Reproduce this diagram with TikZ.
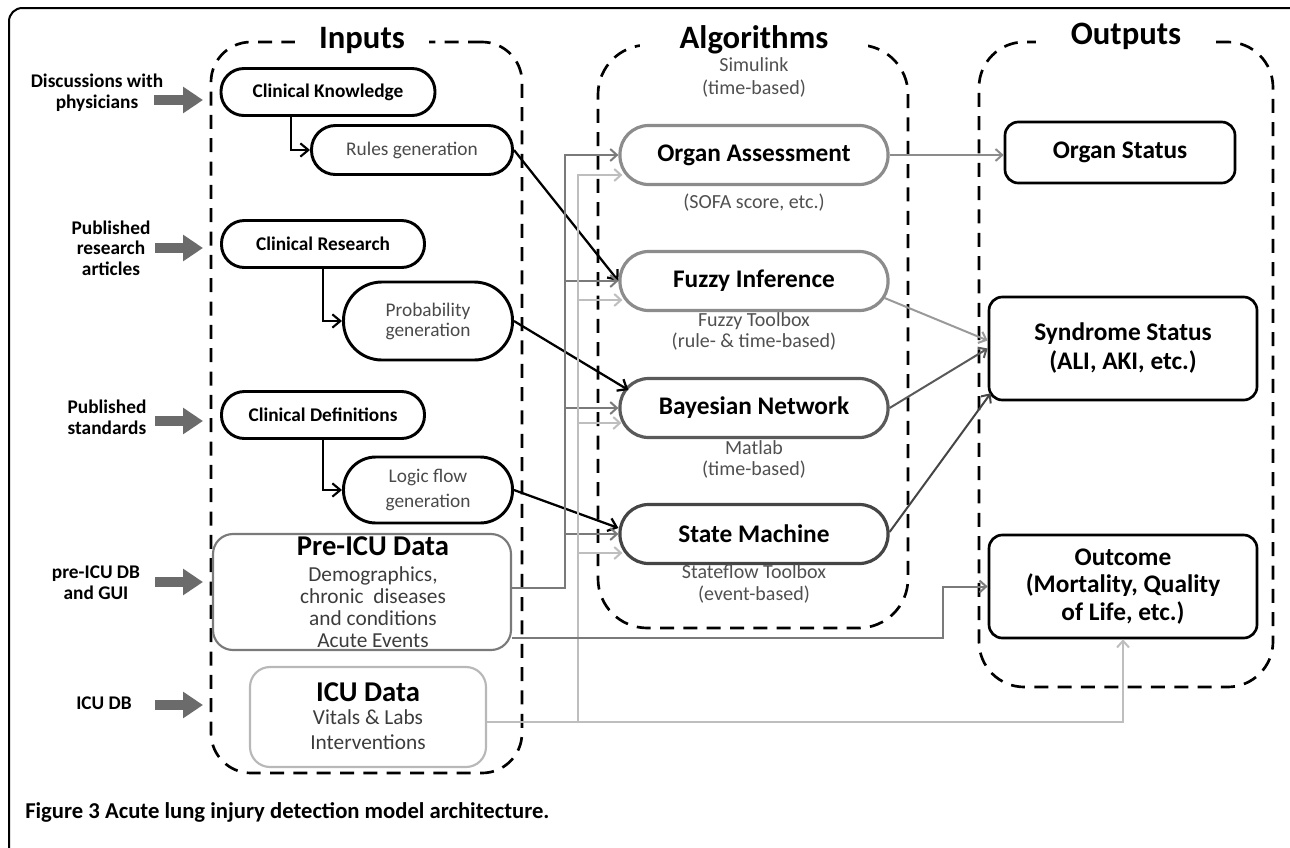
\documentclass[tikz,border=0pt]{standalone}
\usepackage{fontspec}
\setmainfont{Carlito}
\usetikzlibrary{arrows.meta,calc}
\definecolor{txtgray}{HTML}{4A4A4A}
\definecolor{subgray}{HTML}{505050}
\definecolor{oagray}{HTML}{8C8C8C}
\definecolor{figray}{HTML}{9A9A9A}
\definecolor{bngray}{HTML}{5A5A5A}
\definecolor{smgray}{HTML}{454545}
\definecolor{midg}{HTML}{7A7A7A}
\definecolor{lightg}{HTML}{BEBEBE}
\definecolor{icugray}{HTML}{B8B8B8}
\definecolor{arrgray}{HTML}{6B6B6B}
\definecolor{bodygray}{HTML}{3C3C3C}
\begin{document}
\begin{tikzpicture}[x=0.75pt,y=-0.75pt,
 lab/.style={font=\fontsize{14.5}{15.5}\selectfont\bfseries, align=center, inner sep=0pt},
 inpill/.style={draw=black, line width=2.2pt, fill=white, inner sep=0pt, align=center},
 inbold/.style={font=\fontsize{14.5}{16}\selectfont\bfseries},
 ingray/.style={font=\fontsize{14.5}{15}\selectfont, text=txtgray},
 algpill/.style={line width=2.4pt, fill=white, inner sep=0pt, minimum width=201pt, minimum height=44.25pt, rounded corners=21.5pt, font=\fontsize{19}{20}\selectfont\bfseries},
 sub/.style={font=\fontsize{15}{15.75}\selectfont, text=subgray, align=center, inner sep=0pt},
 outnode/.style={draw=black, line width=2pt, fill=white, inner sep=0pt, align=center, rounded corners=10pt},
 dbox/.style={draw=black, line width=2pt, dash pattern=on 10.5pt off 7pt, rounded corners=30pt, inner sep=0pt},
 boxtitle/.style={fill=white, inner ysep=0pt, font=\fontsize{24.5}{26}\selectfont\bfseries},
 blockarr/.style={draw=arrgray, line width=8pt, -{Triangle[length=15pt,width=19pt]}},
 con/.style={line width=1.5pt, -{Straight Barb[length=5pt,width=9pt]}},
 blk/.style={line width=1.7pt, draw=black, -{Straight Barb[length=6pt,width=10pt]}},
 datatitle/.style={font=\fontsize{21.5}{24}\selectfont\bfseries, inner sep=0pt},
]
\useasboundingbox (0,0) rectangle (1290,847);
\clip (0,0) rectangle (1290,847);
\fill[white] (0,0) rectangle (1290,847);

% outer frame
\draw[line width=1.5pt, rounded corners=10pt] (9,870) -- (9,8) -- (1301,8) -- (1301,870);

% dashed group boxes
\node[dbox, minimum width=233.25pt, minimum height=548.25pt] (inbox) at (366.5,407.5) {};
\node[dbox, minimum width=232.5pt, minimum height=437.25pt, rounded corners=37pt] (algbox) at (753,336.5) {};
\node[dbox, minimum width=220.5pt, minimum height=483.75pt, rounded corners=34pt] (obox) at (1126,364.5) {};
\node[boxtitle, inner xsep=18pt] (tin) at (362,40) {Inputs};
\node[boxtitle, inner xsep=30pt] (talg) at (754,40) {Algorithms};
\node[boxtitle, inner xsep=26pt] (tout) at (1126,36) {Outputs};
\node[sub, font=\fontsize{15}{17.25}\selectfont] (simu) at (754,77) {Simulink\\(time-based)};

% left labels and block arrows
\node[lab] (l1) at (97,93) {Discussions with\\physicians};
\node[lab] (l2) at (111,248) {Published\\research\\articles};
\node[lab] (l3) at (107,417) {Published\\standards};
\node[lab] (l4) at (96,583) {pre-ICU DB\\and GUI};
\node[lab] (l5) at (104,703) {ICU DB};
\coordinate (a1) at (154,100);
\coordinate (a2) at (155,248);
\coordinate (a3) at (155,421);
\coordinate (a4) at (155,582);
\coordinate (a5) at (155,705);
\foreach \a in {a1,a2,a3,a4,a5}{
  \draw[blockarr] (\a) -- ([xshift=-5pt]inbox.west |- \a);
}

% input nodes
\node[inpill, inbold, minimum width=160.5pt, minimum height=35.25pt, rounded corners=17.2pt] (ck) at (328,92) {Clinical Knowledge};
\node[inpill, ingray, minimum width=150.75pt, minimum height=36.75pt, rounded corners=18pt] (rg) at (412,150) {Rules generation};
\node[inpill, inbold, minimum width=152.25pt, minimum height=35.25pt, rounded corners=17.2pt] (cr) at (323,244) {Clinical Research};
\node[inpill, ingray, minimum width=126.75pt, minimum height=58.5pt, rounded corners=28.8pt] (pg) at (428,321) {Probability\\generation};
\node[inpill, inbold, minimum width=152.25pt, minimum height=35.25pt, rounded corners=17.2pt] (cd) at (323,415) {Clinical Definitions};
\node[inpill, ingray, font=\fontsize{14.5}{18.75}\selectfont, minimum width=126.75pt, minimum height=49.5pt, rounded corners=24.3pt] (lf) at (428,490) {Logic flow\\generation};

\node[draw=midg, line width=1.6pt, fill=white, rounded corners=15pt, minimum width=223.5pt, minimum height=87pt, inner sep=0pt] (pre) at (362,592) {};
\node[datatitle] (pret) at (373,546) {Pre-ICU Data};
\node[font=\fontsize{16}{16.5}\selectfont, text=bodygray, align=center, inner sep=0pt] (preb) at (373,607) {Demographics,\\chronic\ \ diseases\\and conditions\\Acute Events};

\node[draw=icugray, line width=1.6pt, fill=white, rounded corners=15pt, minimum width=177pt, minimum height=75pt, inner sep=0pt] (icu) at (368,717) {};
\node[datatitle] (icut) at (368,692) {ICU Data};
\node[font=\fontsize{16}{18.75}\selectfont, text=bodygray, align=center, inner sep=0pt] (icub) at (368,729.5) {Vitals \& Labs\\Interventions};

% algorithm nodes
\node[algpill, draw=oagray] (oa) at (754,155) {Organ Assessment};
\node[sub] (oas) at (754,203) {(SOFA score, etc.)};
\node[algpill, draw=oagray] (fi) at (754,281) {Fuzzy Inference};
\node[sub] (fis) at (754,331) {Fuzzy Toolbox\\(rule- \& time-based)};
\node[algpill, draw=bngray] (bn) at (754,408) {Bayesian Network};
\node[sub] (bns) at (754,459) {Matlab\\(time-based)};
\node[algpill, draw=smgray] (sm) at (754,534) {State Machine};
\node[sub, font=\fontsize{15}{16.5}\selectfont] (sms) at (754,584) {Stateflow Toolbox\\(event-based)};

% output nodes
\node[outnode, font=\fontsize{19}{21}\selectfont\bfseries, minimum width=172.5pt, minimum height=45.75pt] (os) at (1120,152.5) {Organ Status};
\node[outnode, font=\fontsize{19}{21.75}\selectfont\bfseries, minimum width=201pt, minimum height=77.25pt] (ss) at (1123,348.5) {Syndrome Status\\(ALI, AKI, etc.)};
\node[outnode, font=\fontsize{19}{20.6}\selectfont\bfseries, minimum width=201pt, minimum height=77.25pt] (oc) at (1123,586.5) {Outcome\\(Mortality, Quality\\of Life, etc.)};

% connectors inside inputs
\coordinate (kx) at (291,0);
\draw[blk, line width=1.6pt] (kx |- ck.south) |- (rg.west);
\draw[blk, line width=1.6pt] (cr.south) |- (pg.west);
\draw[blk, line width=1.6pt] (cd.south) |- (lf.west);

% diagonal black arrows
\coordinate (bnT) at ($(bn.west)+(10,-18)$);
\coordinate (smT) at ($(sm.west)+(0,-6)$);
\draw[blk] (rg.east) -- (fi.west);
\draw[blk] (pg.east) -- (bnT);
\draw[blk] (lf.east) -- (smT);

% bus A from Pre-ICU data
\coordinate (busA) at (565,0);
\coordinate (yA) at (0,588);
\draw[con, draw=midg] (pre.east |- yA) -| (busA |- oa.west) -- (oa.west);
\draw[con, draw=midg] (busA |- fi.west) -- (fi.west);
\draw[con, draw=midg] (busA |- bn.west) -- (bn.west);
\draw[con, draw=midg] (busA |- sm.west) -- (sm.west);

% bus B from ICU data
\coordinate (busB) at (578,0);
\coordinate (yB) at (0,722);
\coordinate (oaL) at ($(oa.west)+(4,20)$);
\coordinate (fiL) at ($(fi.west)+(4,19)$);
\coordinate (bnL) at ($(bn.west)+(3,15)$);
\coordinate (smL) at ($(sm.west)+(4,19)$);
\draw[con, draw=lightg] (icu.east |- yB) -| (busB |- oaL) -- (oaL);
\draw[con, draw=lightg] (busB |- fiL) -- (fiL);
\draw[con, draw=lightg] (busB |- bnL) -- (bnL);
\draw[con, draw=lightg] (busB |- smL) -- (smL);
\draw[con, draw=lightg] (busB |- yB) -| (oc.south);

% Pre-ICU to outcome
\coordinate (yC) at (0,638);
\coordinate (xC) at (943,0);
\draw[con, draw=midg] (pre.east |- yC) -| (xC |- oc.west) -- (oc.west);

% algorithms to outputs
\coordinate (fiR) at ($(fi.east)+(-5,17)$);
\coordinate (ssA) at ($(ss.west)+(0,-8)$);
\coordinate (smR) at ($(sm.east)+(0,-2)$);
\coordinate (ssC) at ($(ss.south west)+(3,-8)$);
\draw[con, draw=oagray] (oa.east) -- (os.west |- oa.east);
\draw[con, draw=figray] (fiR) -- (ssA);
\draw[con, draw=bngray] (bn.east) -- (ss.west);
\draw[con, draw=smgray] (smR) -- (ssC);

% caption
\node[anchor=west, font=\fontsize{17}{19}\selectfont\bfseries, inner sep=0pt] (cap) at (25,812) {Figure 3 Acute lung injury detection model architecture.};
\end{tikzpicture}
\end{document}
